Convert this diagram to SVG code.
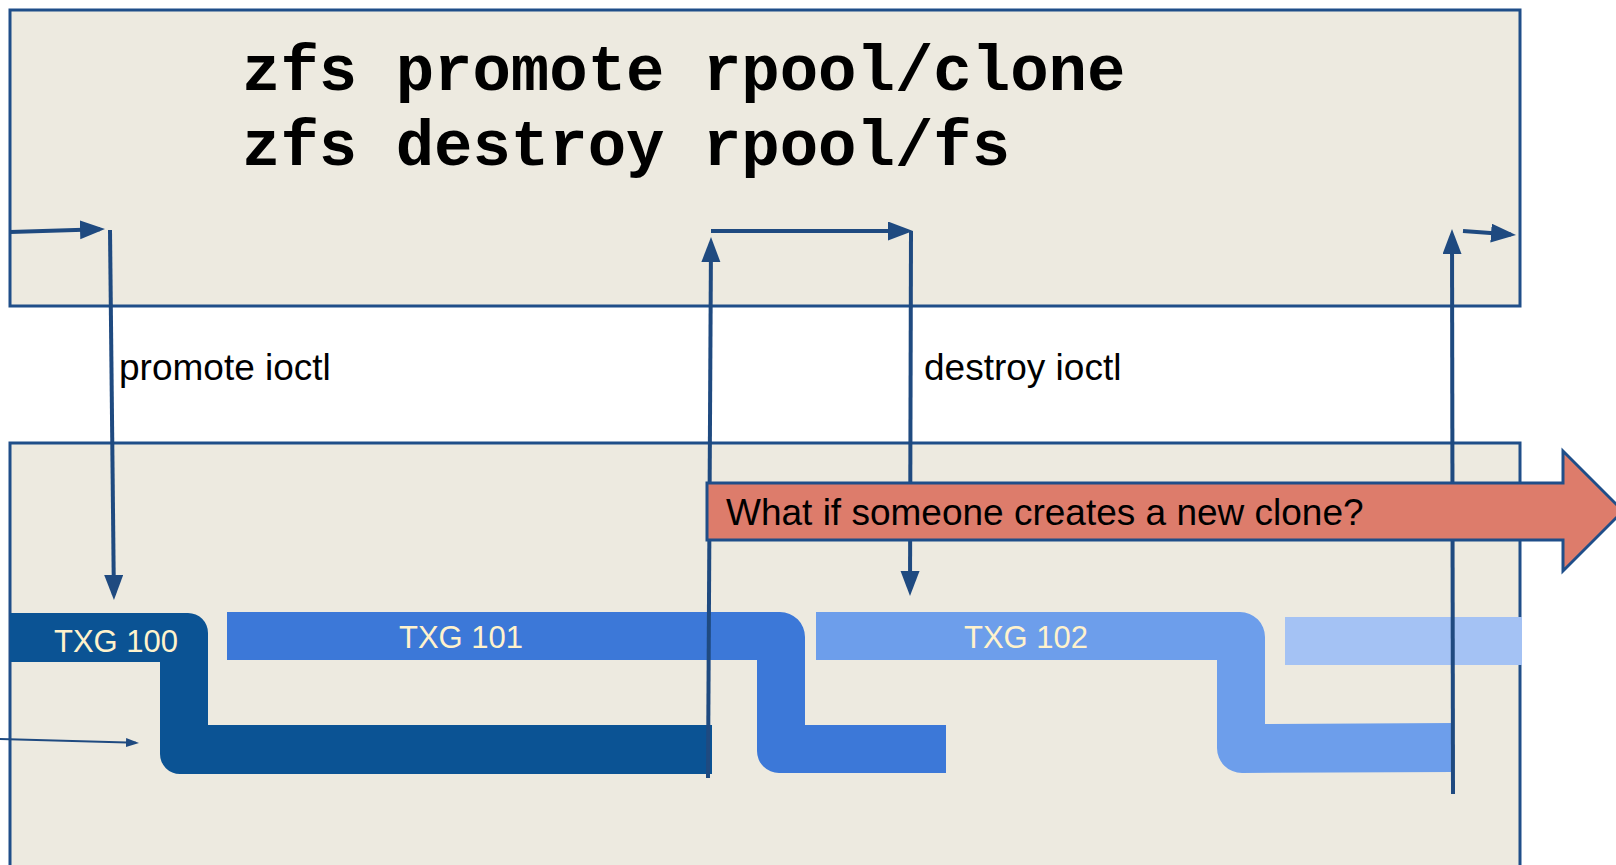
<svg xmlns="http://www.w3.org/2000/svg" width="1616" height="865" viewBox="0 0 1616 865">
  <defs>
    <style>
      .panel { fill: #edeae0; stroke: #1f4e89; stroke-width: 3; }
      .conn { fill: none; stroke: #1f4a80; stroke-width: 4; }
      .thin { fill: none; stroke: #1f4a80; stroke-width: 2; }
      .code { font-family: "Liberation Mono", "Courier New", monospace; font-weight: bold; font-size: 64px; fill: #000; }
      .label { font-family: "Liberation Sans", Arial, sans-serif; font-size: 37px; fill: #000; }
      .txg { font-family: "Liberation Sans", Arial, sans-serif; font-size: 31px; fill: #fff2cc; text-anchor: middle; }
    </style>
    <marker id="head" markerUnits="userSpaceOnUse" markerWidth="26" markerHeight="20" refX="20" refY="9.5" orient="auto">
      <path d="M0,0 L25,9.5 L0,19 Z" fill="#1f4a80"/>
    </marker>
    <marker id="headSmall" markerUnits="userSpaceOnUse" markerWidth="14" markerHeight="10" refX="10" refY="4.5" orient="auto">
      <path d="M0,0 L13,4.5 L0,9 Z" fill="#1f4a80"/>
    </marker>
  </defs>

  <!-- command panel -->
  <g id="commands">
    <rect class="panel" x="10" y="10" width="1510" height="296"/>
    <text class="code" x="242" y="90">zfs promote rpool/clone</text>
    <text class="code" x="242" y="165">zfs destroy rpool/fs</text>
  </g>

  <!-- kernel / txg panel -->
  <g id="kernel">
    <rect class="panel" x="10" y="443" width="1510" height="440"/>
  </g>

  <!-- transaction groups -->
  <g id="txg100">
    <path d="M10,613 L188,613 A20,20 0 0 1 208,633 L208,725 L712,725 L712,774 L180,774 A20,20 0 0 1 160,754 L160,662 L10,662 Z" fill="#0b5394"/>
    <text class="txg" x="116" y="652">TXG 100</text>
  </g>
  <g id="txg101">
    <path d="M227,612 L780,612 A25,25 0 0 1 805,637 L805,725 L946,725 L946,773 L779,773 A22,22 0 0 1 757,751 L757,660 L227,660 Z" fill="#3c78d8"/>
    <text class="txg" x="461" y="648">TXG 101</text>
  </g>
  <g id="txg102">
    <path d="M816,612 L1240,612 A25,25 0 0 1 1265,637 L1265,724 L1453,723 L1453,772 L1242,773 A25,25 0 0 1 1217,748 L1217,660 L816,660 Z" fill="#6d9eeb"/>
    <text class="txg" x="1026" y="648">TXG 102</text>
  </g>
  <g id="txg103">
    <rect x="1285" y="617" width="237" height="48" fill="#a4c2f4"/>
  </g>

  <!-- call flow -->
  <g id="connectors">
    <line class="conn" x1="10" y1="232" x2="100" y2="229.2" marker-end="url(#head)"/>
    <line class="conn" x1="110" y1="230" x2="113.9" y2="595" marker-end="url(#head)"/>
    <line class="conn" x1="708" y1="778" x2="711" y2="242" marker-end="url(#head)"/>
    <line class="conn" x1="711" y1="231" x2="908" y2="231" marker-end="url(#head)"/>
    <line class="conn" x1="911" y1="231" x2="910" y2="591" marker-end="url(#head)"/>
    <line class="conn" x1="1453" y1="794" x2="1452" y2="234" marker-end="url(#head)"/>
    <line class="conn" x1="1463" y1="231" x2="1511" y2="234.6" marker-end="url(#head)"/>
    <line class="thin" x1="0" y1="739" x2="136" y2="742.8" marker-end="url(#headSmall)"/>
    <text class="label" x="119" y="380">promote ioctl</text>
    <text class="label" x="924" y="380">destroy ioctl</text>
  </g>

  <!-- question callout -->
  <g id="question">
    <path d="M707,483 L1563,483 L1563,451 L1623,511 L1563,571 L1563,540 L707,540 Z" fill="#dd7c6b" stroke="#1f4e89" stroke-width="3"/>
    <text class="label" x="726" y="525">What if someone creates a new clone?</text>
  </g>
</svg>
